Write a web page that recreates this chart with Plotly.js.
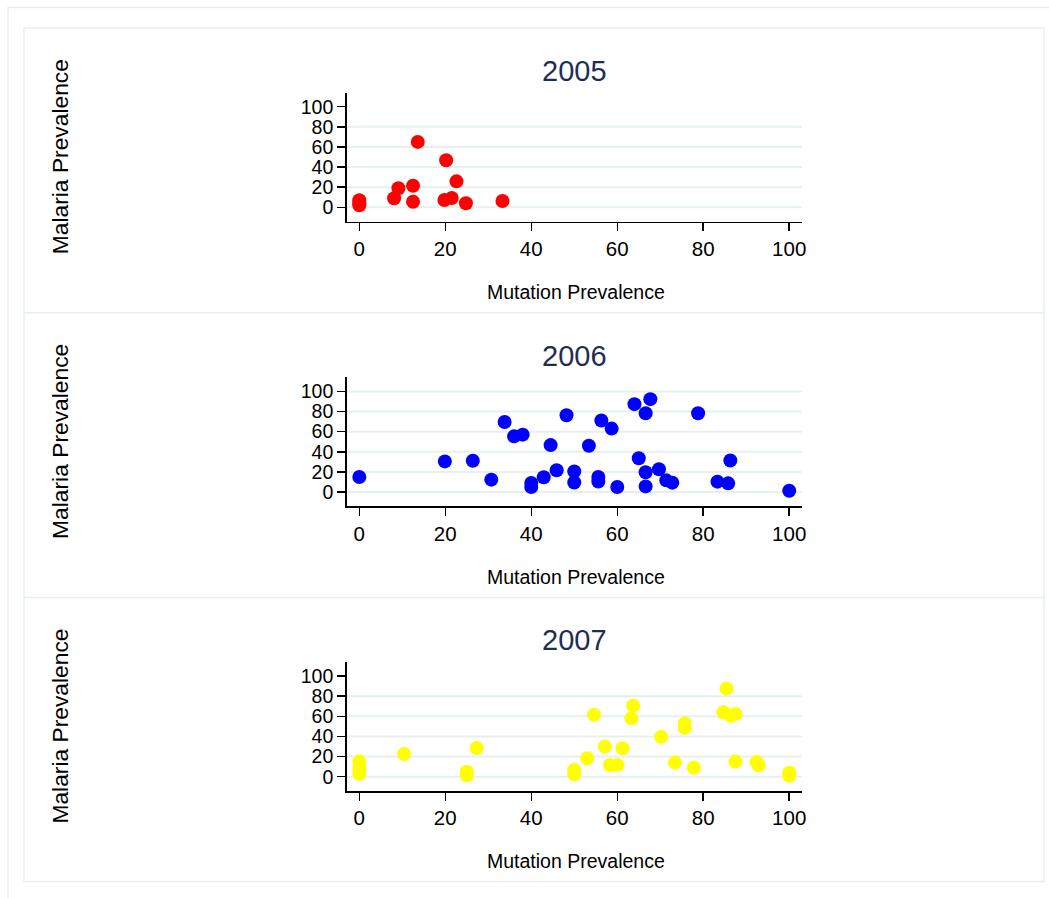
<!DOCTYPE html>
<html><head><meta charset="utf-8">
<script src="https://cdn.plot.ly/plotly-3.0.1.min.js"></script>
<style>html,body{margin:0;padding:0;background:#fff}#chart{width:1049px;height:898px}</style>
</head><body><div id="chart"></div>
<script>
const years = ['2005', '2006', '2007'];
const colors = ['#ff0000', '#0000ff', '#ffff00'];
const xTicks = [0, 20, 40, 60, 80, 100];
const yTicks = [0, 20, 40, 60, 80, 100];
const xTitle = 'Mutation Prevalence';
const yTitle = 'Malaria Prevalence';

const mut2005 = [0, 0, 0, 8.1, 9.1, 12.5, 12.5, 13.6, 20.2, 22.6, 19.8, 21.5, 24.8, 33.3];
const mal2005 = [7, 4, 2, 9, 19, 21.5, 5.6, 65, 46.7, 25.8, 7.3, 9.3, 4, 6.3];

const mut2006 = [0, 19.9, 26.4, 30.7, 33.8, 36, 38, 40, 40, 42.9, 44.5, 45.9, 48.2, 50, 50, 53.4, 55.6, 55.6, 56.3, 58.7, 60, 64, 67.7, 66.6, 65, 66.6, 66.6, 69.7, 71.4, 72.8, 78.8, 83.3, 85.8, 86.3, 100];
const mal2006 = [14.9, 30.4, 31, 12.3, 69.6, 55.3, 57, 9, 5, 14.6, 46.6, 21.6, 76.3, 20.5, 9.5, 46, 15, 10.5, 71, 63, 5, 87.3, 92.3, 78.3, 33.6, 19.6, 5.6, 22.6, 11.6, 9.3, 78.3, 10.3, 8.6, 31.3, 1.3];

const mut2007 = [0, 0, 0, 10.4, 27.3, 25, 25, 50, 50, 53, 54.6, 57.1, 58.3, 60, 61.2, 63.7, 63.3, 70.2, 73.4, 75.7, 75.7, 77.8, 85.4, 84.7, 86.4, 87.5, 87.5, 92.4, 92.9, 100, 100];
const mal2007 = [15, 8, 3, 22.5, 28.6, 5, 1.5, 7, 2.5, 18.3, 61.6, 30, 11.6, 11.6, 28.3, 70.6, 58, 39.6, 14, 53, 48.5, 9, 87.6, 64, 60.6, 62.3, 15, 14.6, 11.3, 4, 1];

const mutData = [mut2005, mut2006, mut2007];
const malData = [mal2005, mal2006, mal2007];
// panels whose grid includes the top tick (100)
const gridTop = [false, true, false];

const W = 1049, H = 898;
const px = v => v / W;
const py = v => 1 - v / H;
const FONT = 'Liberation Sans, Arial, sans-serif';
const gridCol = '#e6eff1';
const borderCol = '#e6eff1';

const panelOff = 284.7;
const xDom = [px(346.7), px(801.7)];
const xRange = [-2.93, 102.9];
const yRange = [-14.3, 113.9];

const traces = [];
const layout = {
  width: W, height: H,
  margin: {l: 0, r: 0, t: 0, b: 0},
  paper_bgcolor: '#fff', plot_bgcolor: '#fff',
  showlegend: false,
  annotations: [], shapes: []
};

years.forEach((yr, i) => {
  const n = i + 1;
  const xa = n === 1 ? 'x' : 'x' + n;
  const ya = n === 1 ? 'y' : 'y' + n;
  const off = i * panelOff;
  traces.push({
    type: 'scatter', mode: 'markers',
    x: mutData[i], y: malData[i],
    xaxis: xa, yaxis: ya,
    marker: {color: colors[i], size: 14, line: {width: 0}},
    cliponaxis: false, hoverinfo: 'x+y'
  });
  layout[n === 1 ? 'xaxis' : 'xaxis' + n] = {
    domain: xDom, range: xRange, anchor: ya,
    tickmode: 'array', tickvals: xTicks, ticktext: xTicks.map(String),
    showline: true, linecolor: '#000', linewidth: 1.5,
    ticks: 'outside', ticklen: 8, tickwidth: 1.5, tickcolor: '#000',
    showgrid: false, zeroline: false,
    tickfont: {family: FONT, size: 20.5, color: '#000'},
    fixedrange: true
  };
  layout[n === 1 ? 'yaxis' : 'yaxis' + n] = {
    domain: [py(221.7 + off), py(92.7 + off)], range: yRange, anchor: xa,
    tickmode: 'array', tickvals: yTicks, ticktext: yTicks.map(String),
    showline: true, linecolor: '#000', linewidth: 1.5,
    ticks: 'outside', ticklen: 8, tickwidth: 1.5, tickcolor: '#000',
    showgrid: false, zeroline: false,
    tickfont: {family: FONT, size: 19.5, color: '#000'},
    fixedrange: true
  };
  const gridVals = gridTop[i] ? yTicks : yTicks.filter(v => v < 100);
  gridVals.forEach(v => {
    layout.shapes.push({type: 'line', xref: xa + ' domain', yref: ya,
      x0: 0, x1: 1, y0: v, y1: v, layer: 'below',
      line: {color: gridCol, width: 2}});
  });
  layout.annotations.push({
    text: yr, xref: 'paper', yref: 'paper', x: px(574.2), y: py(71 + off),
    xanchor: 'center', yanchor: 'middle', showarrow: false,
    font: {family: FONT, size: 29, color: '#1f2d55'}
  });
  layout.annotations.push({
    text: xTitle, xref: 'paper', yref: 'paper', x: px(576), y: py(292 + off),
    xanchor: 'center', yanchor: 'middle', showarrow: false,
    font: {family: FONT, size: 19.5, color: '#000'}
  });
  layout.annotations.push({
    text: yTitle, xref: 'paper', yref: 'paper', x: px(60), y: py(157.2 + off),
    xanchor: 'center', yanchor: 'middle', showarrow: false, textangle: -90,
    font: {family: FONT, size: 22.8, color: '#000'}
  });
  if (i > 0) {
    layout.shapes.push({type: 'line', xref: 'paper', yref: 'paper',
      x0: px(24), x1: px(1044), y0: py(28 + off), y1: py(28 + off),
      line: {color: borderCol, width: 1.5}});
  }
});

layout.shapes.push({type: 'rect', xref: 'paper', yref: 'paper',
  x0: px(24), x1: px(1044), y0: py(881.5), y1: py(28),
  line: {color: borderCol, width: 1.5}, fillcolor: 'rgba(0,0,0,0)', layer: 'below'});
layout.shapes.push({type: 'rect', xref: 'paper', yref: 'paper',
  x0: px(8), x1: 1.02, y0: -0.02, y1: py(7.5),
  line: {color: borderCol, width: 1.5}, fillcolor: 'rgba(0,0,0,0)', layer: 'below'});

Plotly.newPlot('chart', traces, layout, {displayModeBar: false, staticPlot: true});
</script>
</body></html>
